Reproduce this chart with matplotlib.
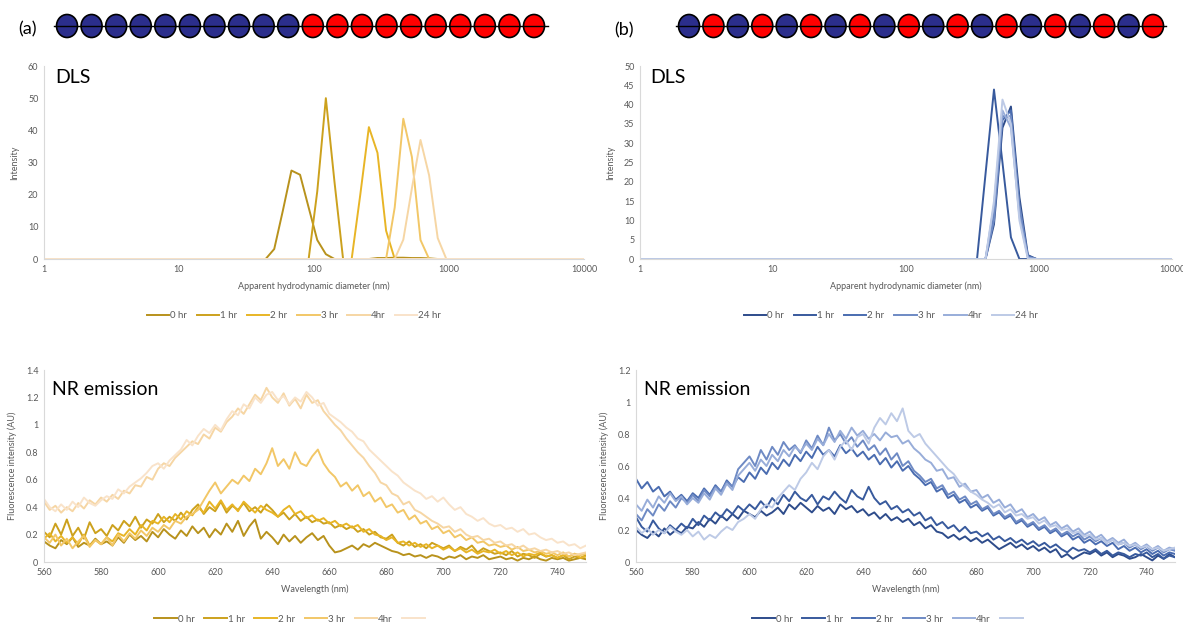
import matplotlib
matplotlib.use('Agg')
import matplotlib.pyplot as plt
from matplotlib.patches import Ellipse
from matplotlib.lines import Line2D
from matplotlib.ticker import FuncFormatter, FixedLocator, NullLocator
import numpy as np

plt.rcParams['font.family'] = ['Lato', 'DejaVu Sans']

# ---- data ----
time_labels = ['0 hr', '1 hr', '2 hr', '3 hr', '4hr', '24 hr']
gold_colors = ['#B8921C', '#CCA11D', '#E8B526', '#F2C767', '#F6D6A4', '#F9E3CA']
blue_colors = ['#2E4C8B', '#385A9D', '#4A6CB0', '#6E8AC4', '#98ADD9', '#BDCAE6']

# polymer bead sequences (B = blue, R = red)
chain_a = ['B'] * 10 + ['R'] * 10
chain_b = ['B', 'R'] * 10

# DLS size bins (nm)
dls_size = [0.965, 1.117, 1.294, 1.499, 1.736, 2.010, 2.328, 2.696, 3.122, 3.615,
            4.187, 4.849, 5.615, 6.503, 7.531, 8.721, 10.10, 11.70, 13.54, 15.69,
            18.17, 21.04, 24.36, 28.21, 32.67, 37.84, 43.82, 50.75, 58.77, 68.06,
            78.82, 91.28, 105.7, 122.4, 141.8, 164.2, 190.1, 220.2, 255.0, 295.3,
            342.0, 396.1, 458.7, 531.2, 615.1, 712.4, 825.0, 955.4, 1106, 1281,
            1484, 1718, 1990, 2305, 2669, 3091, 3580, 4145, 4801, 5560,
            6439, 7456, 8635, 10000]

# DLS intensity, panel (a); 27 zero bins below 50 nm
dls_a_0hr = [0.0] * 27 + [3.1, 15.0, 27.5, 26.2, 16.0, 5.9, 1.5, 0.0, 0.0, 0.0, 0.0, 0.0,
                          0.3, 0.3, 0.4, 0.4, 0.3, 0.3, 0.2, 0.0] + [0.0] * 17
dls_a_1hr = [0.0] * 27 + [0.0, 0.0, 0.0, 0.0, 0.0, 21.0, 50.0, 24.0, 0.0, 0.0, 0.0, 0.0,
                          0.0, 0.0, 0.0, 0.0, 0.0, 0.0, 0.0, 0.0] + [0.0] * 17
dls_a_2hr = [0.0] * 27 + [0.0, 0.0, 0.0, 0.0, 0.0, 0.0, 0.0, 0.0, 0.0, 0.0, 20.0, 41.0,
                          33.0, 8.8, 0.0, 0.0, 0.0, 0.0, 0.0, 0.0] + [0.0] * 17
dls_a_3hr = [0.0] * 27 + [0.0, 0.0, 0.0, 0.0, 0.0, 0.0, 0.0, 0.0, 0.0, 0.0, 0.0, 0.0,
                          0.0, 0.0, 16.0, 43.6, 31.7, 5.9, 0.0, 0.0] + [0.0] * 17
dls_a_4hr = [0.0] * 27 + [0.0, 0.0, 0.0, 0.0, 0.0, 0.0, 0.0, 0.0, 0.0, 0.0, 0.0, 0.0,
                          0.0, 0.0, 0.0, 6.0, 22.0, 37.0, 26.0, 6.5] + [0.0] * 17
dls_a_24hr = [0.0] * 64
dls_a = [dls_a_0hr, dls_a_1hr, dls_a_2hr, dls_a_3hr, dls_a_4hr, dls_a_24hr]

# DLS intensity, panel (b); values from 342 nm bin onwards
dls_b_0hr = [0.0] * 40 + [0.0, 0.0, 9.0, 34.0, 39.5, 16.0, 1.0, 0.0] + [0.0] * 16
dls_b_1hr = [0.0] * 40 + [0.0, 22.0, 43.9, 25.0, 5.6, 0.0, 0.0, 0.0] + [0.0] * 16
dls_b_2hr = [0.0] * 40 + [0.0, 0.0, 12.0, 36.0, 38.5, 12.0, 0.8, 0.0] + [0.0] * 16
dls_b_3hr = [0.0] * 40 + [0.0, 0.0, 10.0, 37.0, 37.0, 14.0, 0.5, 0.0] + [0.0] * 16
dls_b_4hr = [0.0] * 40 + [0.0, 0.0, 14.0, 38.5, 34.0, 11.0, 0.3, 0.0] + [0.0] * 16
dls_b_24hr = [0.0] * 40 + [0.0, 0.0, 15.0, 41.3, 35.0, 10.0, 0.0, 0.0] + [0.0] * 16
dls_b = [dls_b_0hr, dls_b_1hr, dls_b_2hr, dls_b_3hr, dls_b_4hr, dls_b_24hr]

# NR emission, 560-750 nm every 2 nm
wavelength = list(range(560, 752, 2))

nr_a_0hr = [0.15, 0.12, 0.10, 0.16, 0.13, 0.18, 0.11, 0.14, 0.12, 0.17,
            0.13, 0.15, 0.12, 0.18, 0.14, 0.20, 0.16, 0.19, 0.15, 0.22,
            0.18, 0.24, 0.20, 0.17, 0.23, 0.19, 0.26, 0.21, 0.25, 0.18,
            0.24, 0.20, 0.28, 0.22, 0.30, 0.19, 0.26, 0.31, 0.17, 0.22,
            0.18, 0.13, 0.20, 0.15, 0.19, 0.14, 0.18, 0.21, 0.16, 0.19,
            0.12, 0.07, 0.08, 0.10, 0.12, 0.09, 0.13, 0.11, 0.14, 0.12,
            0.10, 0.08, 0.07, 0.05, 0.06, 0.04, 0.05, 0.03, 0.05, 0.04,
            0.02, 0.04, 0.03, 0.05, 0.02, 0.04, 0.03, 0.05, 0.02, 0.03,
            0.04, 0.02, 0.03, 0.01, 0.03, 0.02, 0.04, 0.02, 0.01, 0.03,
            0.02, 0.03, 0.01, 0.02, 0.03, 0.02]
nr_a_1hr = [0.22, 0.18, 0.28, 0.20, 0.31, 0.19, 0.25, 0.17, 0.29, 0.21,
            0.24, 0.19, 0.27, 0.23, 0.30, 0.26, 0.33, 0.25, 0.31, 0.28,
            0.35, 0.29, 0.33, 0.30, 0.36, 0.31, 0.38, 0.42, 0.35, 0.40,
            0.37, 0.44, 0.36, 0.41, 0.38, 0.43, 0.37, 0.40, 0.36, 0.42,
            0.38, 0.33, 0.36, 0.31, 0.35, 0.30, 0.33, 0.29, 0.31, 0.28,
            0.29, 0.25, 0.27, 0.24, 0.26, 0.22, 0.24, 0.20, 0.22, 0.18,
            0.17, 0.20, 0.14, 0.12, 0.15, 0.11, 0.13, 0.10, 0.14, 0.12,
            0.10, 0.12, 0.08, 0.11, 0.09, 0.12, 0.07, 0.10, 0.08, 0.06,
            0.07, 0.05, 0.08, 0.04, 0.06, 0.05, 0.03, 0.06, 0.04, 0.05,
            0.03, 0.05, 0.02, 0.04, 0.03, 0.05]
nr_a_2hr = [0.17, 0.21, 0.15, 0.19, 0.14, 0.18, 0.13, 0.20, 0.12, 0.16,
            0.13, 0.18, 0.15, 0.21, 0.19, 0.24, 0.20, 0.27, 0.23, 0.30,
            0.28, 0.33, 0.29, 0.35, 0.31, 0.37, 0.34, 0.40, 0.36, 0.44,
            0.39, 0.45, 0.38, 0.42, 0.37, 0.44, 0.40, 0.36, 0.41, 0.38,
            0.36, 0.33, 0.38, 0.41, 0.35, 0.37, 0.32, 0.34, 0.30, 0.32,
            0.28, 0.30, 0.26, 0.28, 0.25, 0.27, 0.22, 0.24, 0.20, 0.19,
            0.16, 0.18, 0.14, 0.15, 0.12, 0.14, 0.11, 0.13, 0.10, 0.12,
            0.09, 0.11, 0.08, 0.10, 0.07, 0.09, 0.06, 0.08, 0.07, 0.09,
            0.06, 0.08, 0.05, 0.07, 0.04, 0.06, 0.05, 0.07, 0.04, 0.05,
            0.03, 0.05, 0.04, 0.06, 0.03, 0.04]
nr_a_3hr = [0.18, 0.14, 0.20, 0.12, 0.17, 0.10, 0.15, 0.19, 0.11, 0.16,
            0.13, 0.18, 0.12, 0.20, 0.15, 0.21, 0.17, 0.23, 0.19, 0.25,
            0.22, 0.27, 0.24, 0.30, 0.28, 0.33, 0.35, 0.38, 0.45, 0.52,
            0.58, 0.50, 0.55, 0.60, 0.57, 0.63, 0.59, 0.68, 0.64, 0.72,
            0.83, 0.70, 0.75, 0.68, 0.80, 0.72, 0.70, 0.77, 0.82, 0.72,
            0.66, 0.62, 0.55, 0.58, 0.52, 0.56, 0.48, 0.51, 0.44, 0.47,
            0.40, 0.42, 0.36, 0.38, 0.31, 0.34, 0.28, 0.30, 0.24, 0.26,
            0.21, 0.23, 0.18, 0.20, 0.16, 0.18, 0.14, 0.15, 0.12, 0.13,
            0.11, 0.12, 0.09, 0.11, 0.08, 0.09, 0.07, 0.08, 0.06, 0.07,
            0.05, 0.07, 0.04, 0.06, 0.05, 0.06]
nr_a_4hr = [0.44, 0.38, 0.41, 0.36, 0.40, 0.37, 0.43, 0.39, 0.45, 0.42,
            0.47, 0.44, 0.49, 0.46, 0.52, 0.50, 0.56, 0.55, 0.62, 0.60,
            0.68, 0.72, 0.70, 0.76, 0.80, 0.84, 0.88, 0.86, 0.93, 0.90,
            0.98, 0.95, 1.02, 1.06, 1.12, 1.08, 1.15, 1.22, 1.18, 1.27,
            1.20, 1.16, 1.23, 1.14, 1.19, 1.12, 1.22, 1.16, 1.18, 1.10,
            1.05, 1.00, 0.96, 0.90, 0.85, 0.80, 0.76, 0.70, 0.65, 0.58,
            0.56, 0.50, 0.48, 0.42, 0.44, 0.38, 0.36, 0.33, 0.30, 0.28,
            0.25, 0.26, 0.22, 0.24, 0.20, 0.18, 0.19, 0.16, 0.17, 0.14,
            0.15, 0.12, 0.13, 0.10, 0.12, 0.09, 0.10, 0.08, 0.09, 0.07,
            0.08, 0.06, 0.07, 0.05, 0.06, 0.07]
nr_a_24hr = [0.46, 0.40, 0.37, 0.42, 0.38, 0.44, 0.40, 0.47, 0.43, 0.41,
             0.45, 0.48, 0.46, 0.53, 0.50, 0.55, 0.58, 0.61, 0.65, 0.70,
             0.72, 0.68, 0.74, 0.78, 0.82, 0.89, 0.85, 0.92, 0.97, 0.94,
             1.00, 0.96, 1.04, 1.10, 1.07, 1.15, 1.12, 1.20, 1.16, 1.22,
             1.24, 1.18, 1.21, 1.15, 1.20, 1.17, 1.24, 1.20, 1.14, 1.16,
             1.08, 1.05, 1.02, 0.98, 0.95, 0.90, 0.88, 0.82, 0.78, 0.74,
             0.70, 0.66, 0.63, 0.58, 0.55, 0.52, 0.50, 0.46, 0.48, 0.44,
             0.47, 0.42, 0.38, 0.40, 0.35, 0.33, 0.30, 0.32, 0.28, 0.26,
             0.27, 0.24, 0.25, 0.22, 0.24, 0.20, 0.21, 0.18, 0.16, 0.17,
             0.14, 0.15, 0.12, 0.13, 0.10, 0.12]
nr_a = [nr_a_0hr, nr_a_1hr, nr_a_2hr, nr_a_3hr, nr_a_4hr, nr_a_24hr]

nr_b_0hr = [0.20, 0.17, 0.15, 0.19, 0.16, 0.21, 0.17, 0.20, 0.18, 0.22,
            0.21, 0.25, 0.22, 0.27, 0.24, 0.29, 0.26, 0.30, 0.27, 0.32,
            0.30, 0.28, 0.32, 0.29, 0.31, 0.34, 0.30, 0.36, 0.33, 0.37,
            0.34, 0.31, 0.35, 0.32, 0.34, 0.30, 0.36, 0.33, 0.35, 0.31,
            0.33, 0.29, 0.31, 0.27, 0.30, 0.26, 0.28, 0.25, 0.27, 0.23,
            0.25, 0.21, 0.23, 0.19, 0.18, 0.15, 0.17, 0.14, 0.16, 0.13,
            0.15, 0.12, 0.14, 0.11, 0.08, 0.10, 0.12, 0.09, 0.11, 0.08,
            0.10, 0.07, 0.09, 0.06, 0.08, 0.03, 0.05, 0.02, 0.04, 0.06,
            0.05, 0.07, 0.04, 0.06, 0.03, 0.05, 0.04, 0.02, 0.03, 0.05,
            0.03, 0.01, 0.04, 0.02, 0.05, 0.03]
nr_b_1hr = [0.28, 0.22, 0.19, 0.26, 0.21, 0.18, 0.23, 0.20, 0.24, 0.21,
            0.27, 0.23, 0.29, 0.26, 0.31, 0.28, 0.33, 0.30, 0.35, 0.32,
            0.36, 0.33, 0.38, 0.34, 0.40, 0.36, 0.42, 0.38, 0.44, 0.40,
            0.38, 0.42, 0.36, 0.41, 0.39, 0.44, 0.40, 0.37, 0.45, 0.41,
            0.39, 0.47, 0.40, 0.36, 0.38, 0.33, 0.35, 0.31, 0.33, 0.29,
            0.31, 0.26, 0.28, 0.23, 0.25, 0.21, 0.23, 0.19, 0.22, 0.18,
            0.19, 0.16, 0.18, 0.14, 0.16, 0.13, 0.15, 0.12, 0.14, 0.11,
            0.13, 0.10, 0.12, 0.09, 0.11, 0.08, 0.06, 0.09, 0.07, 0.08,
            0.06, 0.08, 0.05, 0.07, 0.04, 0.06, 0.05, 0.03, 0.05, 0.04,
            0.06, 0.03, 0.05, 0.02, 0.04, 0.03]
nr_b_2hr = [0.52, 0.46, 0.50, 0.44, 0.47, 0.41, 0.44, 0.39, 0.42, 0.38,
            0.43, 0.40, 0.46, 0.42, 0.48, 0.44, 0.51, 0.47, 0.53, 0.50,
            0.56, 0.52, 0.59, 0.55, 0.62, 0.58, 0.64, 0.60, 0.67, 0.63,
            0.69, 0.65, 0.72, 0.67, 0.70, 0.66, 0.73, 0.68, 0.71, 0.66,
            0.69, 0.64, 0.67, 0.61, 0.65, 0.59, 0.63, 0.57, 0.60, 0.55,
            0.52, 0.48, 0.50, 0.44, 0.46, 0.40, 0.42, 0.37, 0.39, 0.34,
            0.36, 0.32, 0.34, 0.29, 0.31, 0.27, 0.29, 0.24, 0.26, 0.22,
            0.24, 0.20, 0.22, 0.18, 0.20, 0.16, 0.18, 0.14, 0.16, 0.12,
            0.14, 0.11, 0.13, 0.10, 0.12, 0.08, 0.10, 0.07, 0.09, 0.06,
            0.08, 0.05, 0.07, 0.04, 0.06, 0.05]
nr_b_3hr = [0.30, 0.26, 0.33, 0.29, 0.36, 0.32, 0.38, 0.34, 0.40, 0.37,
            0.42, 0.38, 0.45, 0.41, 0.47, 0.44, 0.50, 0.47, 0.58, 0.62,
            0.66, 0.60, 0.70, 0.64, 0.72, 0.67, 0.75, 0.70, 0.73, 0.68,
            0.76, 0.71, 0.79, 0.73, 0.84, 0.76, 0.80, 0.74, 0.78, 0.72,
            0.76, 0.70, 0.73, 0.67, 0.71, 0.64, 0.68, 0.60, 0.63, 0.57,
            0.54, 0.50, 0.52, 0.46, 0.48, 0.42, 0.44, 0.39, 0.41, 0.36,
            0.38, 0.33, 0.35, 0.30, 0.32, 0.28, 0.30, 0.25, 0.27, 0.23,
            0.25, 0.21, 0.23, 0.19, 0.21, 0.17, 0.19, 0.16, 0.18, 0.14,
            0.16, 0.13, 0.15, 0.12, 0.14, 0.11, 0.12, 0.09, 0.11, 0.08,
            0.10, 0.07, 0.09, 0.06, 0.08, 0.07]
nr_b_4hr = [0.36, 0.32, 0.39, 0.34, 0.41, 0.37, 0.43, 0.38, 0.41, 0.36,
            0.40, 0.37, 0.43, 0.39, 0.46, 0.42, 0.49, 0.45, 0.54, 0.58,
            0.62, 0.57, 0.64, 0.60, 0.67, 0.63, 0.70, 0.66, 0.72, 0.69,
            0.74, 0.70, 0.77, 0.73, 0.80, 0.75, 0.82, 0.77, 0.84, 0.79,
            0.82, 0.77, 0.80, 0.76, 0.81, 0.78, 0.79, 0.74, 0.76, 0.71,
            0.68, 0.64, 0.62, 0.57, 0.58, 0.52, 0.53, 0.47, 0.49, 0.44,
            0.45, 0.40, 0.42, 0.37, 0.39, 0.34, 0.36, 0.31, 0.33, 0.28,
            0.30, 0.26, 0.28, 0.23, 0.25, 0.21, 0.23, 0.19, 0.21, 0.17,
            0.19, 0.15, 0.17, 0.13, 0.15, 0.12, 0.14, 0.10, 0.12, 0.09,
            0.11, 0.08, 0.10, 0.07, 0.09, 0.08]
nr_b_24hr = [0.22, 0.18, 0.21, 0.17, 0.20, 0.18, 0.22, 0.19, 0.17, 0.20,
             0.16, 0.19, 0.14, 0.17, 0.15, 0.19, 0.22, 0.20, 0.25, 0.27,
             0.30, 0.27, 0.33, 0.36, 0.34, 0.40, 0.44, 0.48, 0.45, 0.52,
             0.56, 0.62, 0.58, 0.66, 0.70, 0.64, 0.72, 0.76, 0.70, 0.78,
             0.80, 0.74, 0.84, 0.90, 0.86, 0.93, 0.88, 0.96, 0.82, 0.78,
             0.80, 0.74, 0.70, 0.66, 0.62, 0.58, 0.55, 0.50, 0.47, 0.44,
             0.42, 0.39, 0.37, 0.34, 0.36, 0.31, 0.33, 0.29, 0.30, 0.27,
             0.28, 0.24, 0.26, 0.22, 0.23, 0.20, 0.21, 0.18, 0.19, 0.16,
             0.17, 0.14, 0.15, 0.12, 0.14, 0.11, 0.12, 0.10, 0.11, 0.09,
             0.10, 0.08, 0.09, 0.07, 0.08, 0.09]
nr_b = [nr_b_0hr, nr_b_1hr, nr_b_2hr, nr_b_3hr, nr_b_4hr, nr_b_24hr]

# ---- figure ----
W, H = 1183, 624
fig = plt.figure(figsize=(W / 100, H / 100), dpi=100)

GRID = '#D9D9D9'
TXT = '#595959'


def px_axes(x0, y0, x1, y1):
    # pixel box (top-left origin) -> figure axes
    return fig.add_axes([x0 / W, 1 - y1 / H, (x1 - x0) / W, (y1 - y0) / H])


def style(ax):
    for s in ['top', 'right']:
        ax.spines[s].set_visible(False)
    for s in ['left', 'bottom']:
        ax.spines[s].set_color(GRID)
        ax.spines[s].set_linewidth(0.8)
    ax.tick_params(length=0, labelsize=6.5, labelcolor=TXT, pad=4)
    ax.yaxis.set_major_formatter(FuncFormatter(lambda v, p: '{:g}'.format(round(v, 2))))


def dls_panel(box, series, colors, ymax, ystep):
    ax = px_axes(*box)
    for y, c in zip(series, colors):
        ax.plot(dls_size, y, color=c, lw=1.4)
    ax.set_xscale('log')
    ax.set_xlim(1, 10000)
    ax.set_ylim(0, ymax)
    ax.xaxis.set_major_locator(FixedLocator([1, 10, 100, 1000, 10000]))
    ax.xaxis.set_minor_locator(NullLocator())
    ax.xaxis.set_major_formatter(FuncFormatter(lambda v, p: '{:g}'.format(v)))
    ax.set_yticks(np.arange(0, ymax + 0.1, ystep))
    style(ax)
    ax.set_xlabel('Apparent hydrodynamic diameter (nm)', fontsize=6.5, color=TXT, labelpad=6)
    ax.set_ylabel('Intensity', fontsize=6.5, color=TXT, labelpad=6)
    ax.text(0.02, 0.94, 'DLS', transform=ax.transAxes, fontsize=14, va='center', ha='left')
    return ax


def nr_panel(box, series, colors, ymax):
    ax = px_axes(*box)
    for y, c in zip(series, colors):
        ax.plot(wavelength, y, color=c, lw=1.4)
    ax.set_xlim(560, 750)
    ax.set_ylim(0, ymax)
    ax.set_xticks(np.arange(560, 741, 20))
    ax.set_yticks(np.arange(0, ymax + 0.01, 0.2))
    style(ax)
    ax.set_xlabel('Wavelength (nm)', fontsize=6.5, color=TXT, labelpad=6)
    ax.set_ylabel('Fluorescence intensity (AU)', fontsize=6.5, color=TXT, labelpad=6)
    ax.text(0.015, 0.90, 'NR emission', transform=ax.transAxes, fontsize=14, va='center', ha='left')
    return ax


def legend_row(cx, cy, colors, labels):
    handles = [Line2D([], [], color=c, lw=1.4) for c in colors]
    fig.legend(handles, labels, loc='center', bbox_to_anchor=(cx / W, 1 - cy / H),
               ncol=6, frameon=False, fontsize=7, handlelength=2.3, handletextpad=0.1,
               columnspacing=1.0, labelcolor=TXT)


dls_panel((44, 66, 584, 259), dls_a, gold_colors, 60, 10)
dls_panel((640, 66, 1172, 259), dls_b, blue_colors, 50, 5)
nr_panel((44, 370, 586, 562), nr_a, gold_colors, 1.4)
nr_panel((636, 370, 1175, 562), nr_b, blue_colors, 1.2)

legend_row(294, 316, gold_colors, time_labels)
legend_row(891, 316, blue_colors, time_labels)
legend_row(290, 619, gold_colors, time_labels[:5] + [''])
legend_row(888, 619, blue_colors, time_labels[:5] + [''])

# ---- bead chains on a pixel overlay ----
ov = fig.add_axes([0, 0, 1, 1], zorder=-1)
ov.set_xlim(0, W)
ov.set_ylim(H, 0)
ov.axis('off')
bead_fill = {'B': '#2B2E8C', 'R': '#FF0000'}


def chain(seq, x_first, x_last, line0, line1, yc):
    ov.plot([line0, line1], [yc, yc], color='black', lw=1.0)
    xs = np.linspace(x_first, x_last, len(seq))
    for x, b in zip(xs, seq):
        ov.add_patch(Ellipse((x, yc), 21, 23, facecolor=bead_fill[b], edgecolor='black', lw=1.2))


chain(chain_a, 67, 534, 54, 548, 26)
chain(chain_b, 689, 1153, 676, 1166, 26)
ov.text(18, 29, '(a)', fontsize=13, va='center', ha='left')
ov.text(614, 30, '(b)', fontsize=13, va='center', ha='left')

fig.savefig('out.png', dpi=100)
